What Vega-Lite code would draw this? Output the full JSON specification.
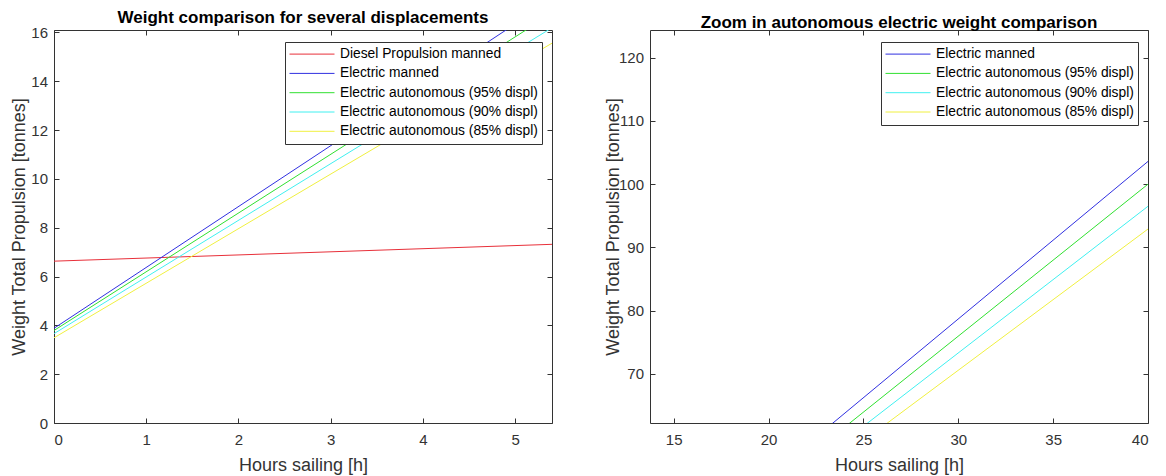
{
  "$schema": "https://vega.github.io/schema/vega-lite/v6.json",
  "padding": {"left": 9, "top": 8, "right": 5, "bottom": 0},
  "background": "white",
  "bounds": "flush",
  "spacing": 98,
  "datasets": {
    "weights": [
      {"series": "Diesel Propulsion manned", "hours": 0, "weight": 6.63},
      {"series": "Diesel Propulsion manned", "hours": 40, "weight": 11.74},
      {"series": "Electric manned", "hours": 0, "weight": 3.88},
      {"series": "Electric manned", "hours": 40, "weight": 103.6},
      {"series": "Electric autonomous (95% displ)", "hours": 0, "weight": 3.79},
      {"series": "Electric autonomous (95% displ)", "hours": 40, "weight": 100.0},
      {"series": "Electric autonomous (90% displ)", "hours": 0, "weight": 3.66},
      {"series": "Electric autonomous (90% displ)", "hours": 40, "weight": 96.5},
      {"series": "Electric autonomous (85% displ)", "hours": 0, "weight": 3.49},
      {"series": "Electric autonomous (85% displ)", "hours": 40, "weight": 92.9}
    ]
  },
  "hconcat": [
    {
      "width": 498,
      "height": 393,
      "data": {"name": "weights"},
      "title": {"text": "Weight comparison for several displacements"},
      "layer": [
        {
          "mark": {"type": "line", "clip": true, "strokeWidth": 1},
          "encoding": {
            "x": {
              "field": "hours", "type": "quantitative",
              "scale": {"domain": [0, 5.4], "nice": false, "zero": false},
              "axis": {"title": "Hours sailing [h]", "values": [0, 1, 2, 3, 4, 5]}
            },
            "y": {
              "field": "weight", "type": "quantitative",
              "scale": {"domain": [0, 16.1], "nice": false, "zero": false},
              "axis": {"title": "Weight Total Propulsion [tonnes]", "values": [0, 2, 4, 6, 8, 10, 12, 14, 16], "titleX": -35}
            },
            "color": {
              "field": "series", "type": "nominal",
              "scale": {
                "domain": ["Diesel Propulsion manned", "Electric manned", "Electric autonomous (95% displ)", "Electric autonomous (90% displ)", "Electric autonomous (85% displ)"],
                "range": ["#e8303a", "#3030e0", "#30e030", "#40f0f0", "#f0f040"]
              },
              "legend": {"legendX": 231, "legendY": 12}
            }
          }
        },
        {
          "mark": {"type": "line", "clip": true, "strokeOpacity": 0},
          "encoding": {
            "x": {
              "field": "hours", "type": "quantitative",
              "axis": {"orient": "top", "labels": false, "title": null, "values": [0, 1, 2, 3, 4, 5]}
            },
            "y": {
              "field": "weight", "type": "quantitative",
              "axis": {"orient": "right", "labels": false, "title": null, "values": [0, 2, 4, 6, 8, 10, 12, 14, 16]}
            },
            "detail": {"field": "series"}
          }
        }
      ],
      "resolve": {"axis": {"x": "independent", "y": "independent"}}
    },
    {
      "width": 498,
      "height": 393,
      "data": {"name": "weights"},
      "transform": [{"filter": "datum.series !== 'Diesel Propulsion manned'"}],
      "title": {"text": "Zoom in autonomous electric weight comparison"},
      "layer": [
        {
          "mark": {"type": "line", "clip": true, "strokeWidth": 1},
          "encoding": {
            "x": {
              "field": "hours", "type": "quantitative",
              "scale": {"domain": [13.75, 40], "nice": false, "zero": false},
              "axis": {"title": "Hours sailing [h]", "values": [15, 20, 25, 30, 35, 40]}
            },
            "y": {
              "field": "weight", "type": "quantitative",
              "scale": {"domain": [62.2, 124.4], "nice": false, "zero": false},
              "axis": {"title": "Weight Total Propulsion [tonnes]", "values": [70, 80, 90, 100, 110, 120], "titleX": -37}
            },
            "color": {
              "field": "series", "type": "nominal",
              "scale": {
                "domain": ["Electric manned", "Electric autonomous (95% displ)", "Electric autonomous (90% displ)", "Electric autonomous (85% displ)"],
                "range": ["#3030e0", "#30e030", "#40f0f0", "#f0f040"]
              },
              "legend": {"legendX": 231, "legendY": 12}
            }
          }
        },
        {
          "mark": {"type": "line", "clip": true, "strokeOpacity": 0},
          "encoding": {
            "x": {
              "field": "hours", "type": "quantitative",
              "axis": {"orient": "top", "labels": false, "title": null, "values": [15, 20, 25, 30, 35, 40]}
            },
            "y": {
              "field": "weight", "type": "quantitative",
              "axis": {"orient": "right", "labels": false, "title": null, "values": [70, 80, 90, 100, 110, 120]}
            },
            "detail": {"field": "series"}
          }
        }
      ],
      "resolve": {"axis": {"x": "independent", "y": "independent"}}
    }
  ],
  "resolve": {"scale": {"color": "independent"}, "legend": {"color": "independent"}},
  "config": {
    "font": "Liberation Sans",
    "view": {"stroke": "#333333", "strokeWidth": 1},
    "title": {"font": "Liberation Sans", "fontSize": 17, "fontWeight": "bold", "color": "#000000", "offset": -2},
    "axis": {
      "domain": false,
      "grid": false,
      "ticks": true,
      "tickSize": -5,
      "tickColor": "#333333",
      "labelFont": "Liberation Sans",
      "labelFontSize": 15,
      "labelColor": "#333333",
      "titleFont": "Liberation Sans",
      "titleFontSize": 18,
      "titleFontWeight": "normal",
      "titleColor": "#333333"
    },
    "axisX": {"labelPadding": 14.5, "titleY": 42, "titleBaseline": "middle"},
    "axisY": {"labelPadding": 11.5, "titleBaseline": "middle"},
    "legend": {
      "orient": "none",
      "title": null,
      "symbolType": "stroke",
      "symbolSize": 2025,
      "symbolStrokeWidth": 1,
      "labelFont": "Liberation Sans",
      "labelFontSize": 13.8,
      "labelColor": "#000000",
      "labelOffset": 5,
      "labelLimit": 0,
      "fillColor": "#ffffff",
      "strokeColor": "#333333",
      "padding": 4,
      "rowPadding": 2.3,
      "clipHeight": 16.2
    }
  }
}
